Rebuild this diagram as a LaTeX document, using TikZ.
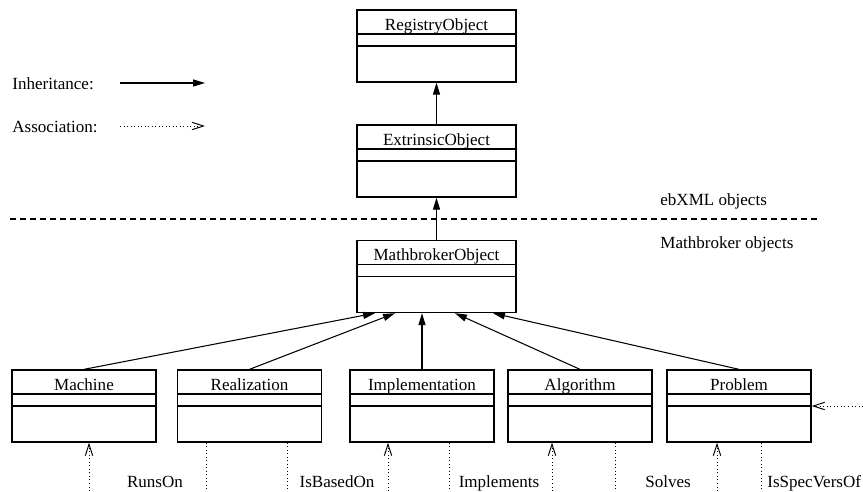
\documentclass[tikz,border=0pt]{standalone}
\usepackage{fontspec}
\setmainfont{Liberation Serif}
\usetikzlibrary{arrows.meta}

\begin{document}
\begin{tikzpicture}[x=0.2mm,y=0.2mm,font=\fontsize{9.7}{11.6}\selectfont,
  cls/.style={draw,line width=0.75pt,minimum width=28.8mm,minimum height=14.4mm,inner sep=0pt,
    path picture={\draw[line width=0.75pt] ([yshift=-4.8mm]path picture bounding box.north west) -- ([yshift=-4.8mm]path picture bounding box.north east);
      \draw[line width=0.75pt] ([yshift=-7.2mm]path picture bounding box.north west) -- ([yshift=-7.2mm]path picture bounding box.north east);}},
  topcls/.style={cls,minimum width=31.8mm},
  clsname/.style={anchor=base,inner sep=0pt},
  plain/.style={anchor=base west,inner sep=0pt},
  inherit/.style={line width=0.6pt,-{Triangle[length=6.8pt,width=4pt]}},
  assocline/.style={line width=0.55pt,dash pattern=on 0.55pt off 1.45pt},
  assoc/.style={assocline,-{Straight Barb[length=6.5pt,width=4.2pt]}}]
\useasboundingbox (0,0) rectangle (863,491);
% legend
\coordinate (inhStart) at (120,408);
\coordinate (inhEnd) at (205,408);
\coordinate (assStart) at (120,365);
\coordinate (assEnd) at (205,365);
\node[plain] (inhLabel) at (12,401) {Inheritance:};
\node[plain] (assLabel) at (12,358) {Association:};
\draw[inherit] (inhStart) -- (inhEnd);
\draw[assoc] (assStart) -- (assEnd);
% ebXML part
\node[topcls] (registry) at (436.5,445) {};
\node[clsname] (registryName) at ([yshift=-4.2mm]registry.north) {RegistryObject};
\node[topcls] (extrinsic) at (436.5,330) {};
\node[clsname] (extrinsicName) at ([yshift=-4.2mm]extrinsic.north) {ExtrinsicObject};
\draw[inherit] (extrinsic.north) -- (registry.south);
\coordinate (sepL) at (10,272);
\coordinate (sepR) at (820,272);
\draw[line width=0.6pt,dash pattern=on 3.4pt off 2.3pt] (sepL) -- (sepR);
\node[plain] (ebxmlLabel) at (660,286) {ebXML objects};
\node[plain] (mathLabel) at (660,243) {Mathbroker objects};
% Mathbroker part
\node[topcls] (mathbroker) at (436.5,214.5) {};
\node[clsname] (mathbrokerName) at ([yshift=-4.2mm]mathbroker.north) {MathbrokerObject};
\draw[inherit] (mathbroker.north) -- (extrinsic.south);
\node[cls] (machine) at (84,85) {};
\node[clsname] (machineName) at ([yshift=-4.2mm]machine.north) {Machine};
\node[cls] (realization) at (249.5,85) {};
\node[clsname] (realizationName) at ([yshift=-4.2mm]realization.north) {Realization};
\node[cls] (implementation) at (422,85) {};
\node[clsname] (implementationName) at ([yshift=-4.2mm]implementation.north) {Implementation};
\node[cls] (algorithm) at (580,85) {};
\node[clsname] (algorithmName) at ([yshift=-4.2mm]algorithm.north) {Algorithm};
\node[cls] (problem) at (739,85) {};
\node[clsname] (problemName) at ([yshift=-4.2mm]problem.north) {Problem};
\draw[inherit] (machine.north) -- ([xshift=-12.3mm]mathbroker.south);
\draw[inherit] (realization.north) -- ([xshift=-8.3mm]mathbroker.south);
\draw[inherit] (implementation.north) -- (implementation.north |- mathbroker.south);
\draw[inherit] (algorithm.north) -- ([xshift=3.7mm]mathbroker.south);
\draw[inherit] (problem.north) -- ([xshift=11.3mm]mathbroker.south);
% associations
\coordinate (runsOnEnd) at (89,0);
\coordinate (runsOnStart) at (206,0);
\coordinate (basedOnStart) at (287,0);
\coordinate (basedOnEnd) at (388,0);
\coordinate (implementsStart) at (449,0);
\coordinate (implementsEnd) at (552,0);
\coordinate (solvesStart) at (615,0);
\coordinate (solvesEnd) at (717,0);
\coordinate (specStart) at (761,0);
\coordinate (specEnd) at (863,85);
\draw[assoc] (runsOnEnd) -- (runsOnEnd |- machine.south);
\draw[assocline] (realization.south -| runsOnStart) -- (runsOnStart);
\draw[assocline] (realization.south -| basedOnStart) -- (basedOnStart);
\draw[assoc] (basedOnEnd) -- (basedOnEnd |- implementation.south);
\draw[assocline] (implementation.south -| implementsStart) -- (implementsStart);
\draw[assoc] (implementsEnd) -- (implementsEnd |- algorithm.south);
\draw[assocline] (algorithm.south -| solvesStart) -- (solvesStart);
\draw[assoc] (solvesEnd) -- (solvesEnd |- problem.south);
\draw[assocline] (problem.south -| specStart) -- (specStart);
\draw[assoc] (specEnd) -- (problem.east);
\node[clsname] (runsOnLabel) at (155,4) {RunsOn};
\node[clsname] (basedOnLabel) at (337,4) {IsBasedOn};
\node[clsname] (implementsLabel) at (499,4) {Implements};
\node[clsname] (solvesLabel) at (668,4) {Solves};
\node[plain] (specLabel) at (767,4) {IsSpecVersOf};
\end{tikzpicture}
\end{document}
